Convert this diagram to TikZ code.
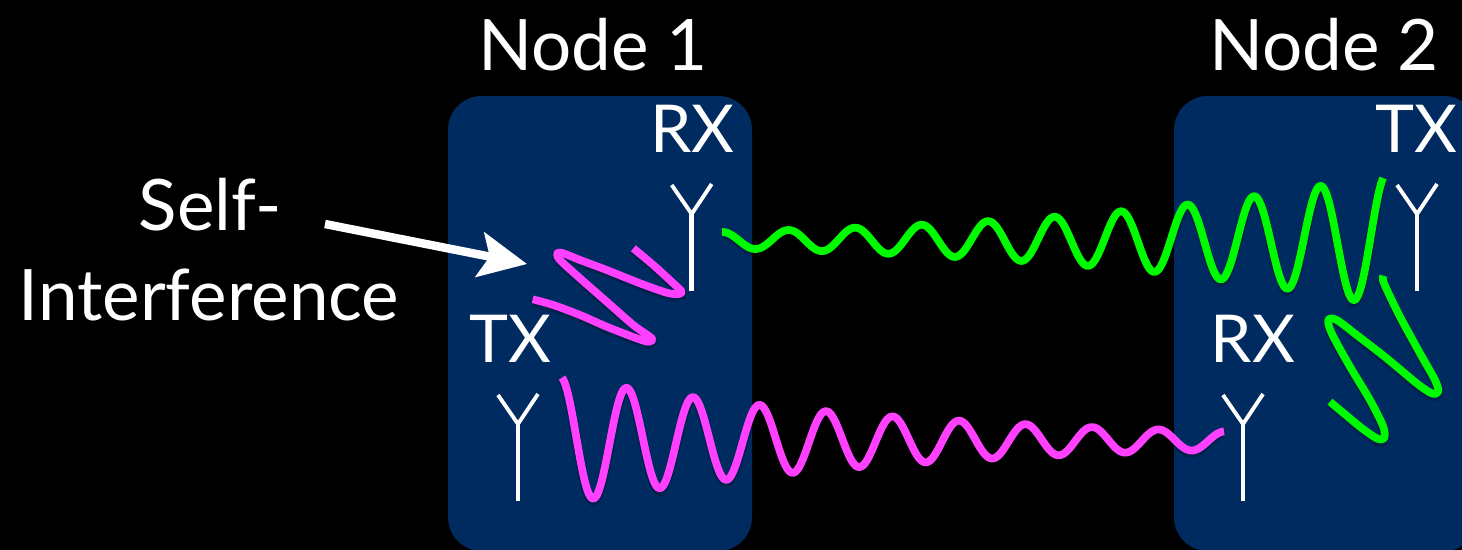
\documentclass[tikz,border=0pt]{standalone}
\usepackage{fontspec}
\setmainfont{Lato}
\usetikzlibrary{arrows.meta}
\definecolor{boxblue}{HTML}{002B60}
\definecolor{wavepink}{HTML}{FF40FF}
\definecolor{wavegreen}{HTML}{00FA00}
\tikzset{
	wave/.style={line width=11pt, line join=round, preaction={draw=black,draw opacity=0.22,line width=14pt,transform canvas={yshift=-3pt}}},
	antenna/.style={draw=white, line width=5.5pt, line cap=butt},
	bigtext/.style={text=white, inner sep=0pt, anchor=base, font=\fontsize{101}{125}\selectfont},
	radiotext/.style={text=white, inner sep=0pt, anchor=base, font=\fontsize{94}{110}\selectfont}
}
\begin{document}
\begin{tikzpicture}[x=0.05cm,y=-0.05cm,line cap=butt]
	\useasboundingbox (0,0) rectangle (1462,550);
	\clip (0,0) rectangle (1462,550);
	\fill[black] (0,0) rectangle (1462,550);
	\fill[boxblue,rounded corners=48pt] (448,96) rectangle (752,551);
	\fill[boxblue,rounded corners=48pt] (1174,96) rectangle (1478,551);
	\node[bigtext] (nodeone) at (593,70) {Node 1};
	\node[bigtext] (nodetwo) at (1324,70) {Node 2};
	\node[radiotext] (rxone) at (692.5,152) {RX};
	\node[radiotext] (txone) at (510,362) {TX};
	\node[radiotext] (txtwo) at (1416,152) {TX};
	\node[radiotext] (rxtwo) at (1253,362) {RX};
	\node[bigtext] (selflabel) at (210,230) {Self-};
	\node[bigtext] (interlabel) at (209,320) {Interference};
	% antennas
	\foreach \ax/\ay in {691.7/213, 518/423, 1417/213, 1243/423}{
		\draw[antenna,line width=6.6pt] (\ax,\ay)--(\ax,\ay+78);
		\draw[antenna] (\ax-20,\ay-28)--(\ax,\ay+1)--(\ax+20,\ay-29);
	}
	% long waves
	\draw[wave,wavegreen,smooth,samples=400,domain=722:1383] plot(\x,{240+9*exp((\x-755)/315)*cos(5.4135*(\x-755))});
	\draw[wave,wavepink,smooth,samples=400,domain=562:1224] plot(\x,{440.5+10*exp((1192-\x)/340)*cos(5.4135*(\x-1192))});
	% self-interference
	\draw[wave,wavepink] plot[smooth,tension=0.5] coordinates {(633.3,248.3) (653.3,265) (673.3,283.3) (681.7,291.7) (678.3,294) (666.7,292.7) (640,283.3) (606.7,270) (580,260) (563.3,253.3) (557.3,253.3) (560,260) (580,278.3) (606.7,301.7) (633.3,325) (651.7,338.3) (648.3,341.7) (636.7,338.3) (606.7,326.7) (580,315) (553.3,305) (532.7,299.3)};
	\draw[wave,wavegreen] plot[smooth,tension=0.5] coordinates {(1383.3,275.7) (1384,283.3) (1400,316.7) (1420,353.3) (1435,380) (1438.3,391.7) (1431.7,393.3) (1416.7,383.3) (1386.7,358.3) (1356.7,335) (1336.7,320) (1328.3,320) (1331.7,333.3) (1350,366.7) (1370,400) (1383.3,426.7) (1384,438.3) (1376.7,438.3) (1360,426.7) (1330,401.7)};
	\coordinate (arrowstart) at (325,224);
	\coordinate (arrowend) at (527,264);
	\draw[white,line width=12pt,-{Stealth[length=68pt,width=64pt,inset=14pt]}] (arrowstart)--(arrowend);
\end{tikzpicture}
\end{document}
